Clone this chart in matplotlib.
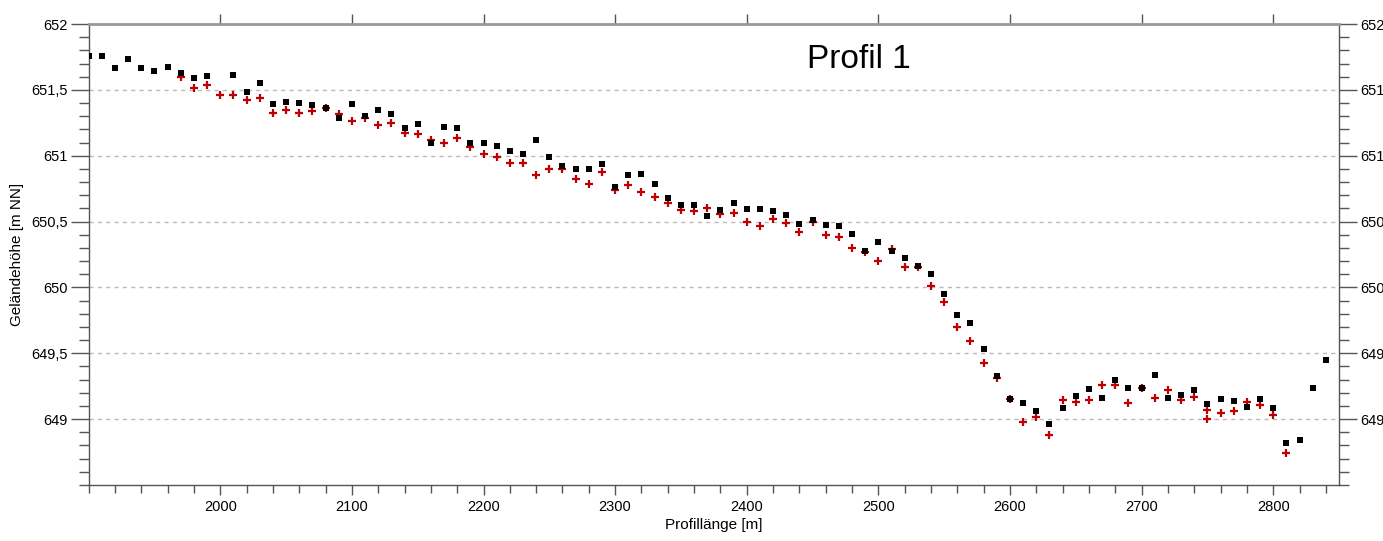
import matplotlib
matplotlib.use('Agg')
import matplotlib.pyplot as plt
from matplotlib.ticker import MultipleLocator, FixedLocator, FuncFormatter

plt.rcParams['font.family'] = ['Liberation Sans', 'DejaVu Sans']

# Messpunkte (schwarz, Quadrate)
x_black = [1900, 1910, 1920, 1930, 1940, 1950, 1960, 1970, 1980, 1990,
           2010, 2020, 2030, 2040, 2050, 2060, 2070, 2080, 2090, 2100,
           2110, 2120, 2130, 2140, 2150, 2160, 2170, 2180, 2190, 2200,
           2210, 2220, 2230, 2240, 2250, 2260, 2270, 2280, 2290, 2300,
           2310, 2320, 2330, 2340, 2350, 2360, 2370, 2380, 2390, 2400,
           2410, 2420, 2430, 2440, 2450, 2460, 2470, 2480, 2490, 2500,
           2510, 2520, 2530, 2540, 2550, 2560, 2570, 2580, 2590, 2600,
           2610, 2620, 2630, 2640, 2650, 2660, 2670, 2680, 2690, 2700,
           2710, 2720, 2730, 2740, 2750, 2760, 2770, 2780, 2790, 2800,
           2810, 2820, 2830, 2840]
h_black = [651.756, 651.756, 651.664, 651.733, 651.664, 651.646, 651.672, 651.628, 651.588, 651.606,
           651.613, 651.486, 651.550, 651.389, 651.405, 651.400, 651.382, 651.359, 651.288, 651.389,
           651.298, 651.344, 651.316, 651.214, 651.244, 651.100, 651.216, 651.209, 651.100, 651.097,
           651.071, 651.036, 651.015, 651.122, 650.992, 650.924, 650.903, 650.903, 650.934, 650.761,
           650.852, 650.865, 650.789, 650.679, 650.628, 650.628, 650.542, 650.590, 650.639, 650.593,
           650.597, 650.582, 650.553, 650.480, 650.510, 650.472, 650.464, 650.404, 650.277, 650.343,
           650.274, 650.221, 650.160, 650.099, 649.947, 649.789, 649.728, 649.530, 649.327, 649.150,
           649.122, 649.060, 648.960, 649.082, 649.175, 649.227, 649.157, 649.296, 649.240, 649.240,
           649.337, 649.160, 649.187, 649.225, 649.114, 649.150, 649.137, 649.091, 649.152, 649.086,
           648.820, 648.843, 649.233, 649.446]

# Messpunkte (rot, Kreuze)
x_red = [1970, 1980, 1990, 2000, 2010, 2020, 2030, 2040, 2050, 2060,
         2070, 2080, 2090, 2100, 2110, 2120, 2130, 2140, 2150, 2160,
         2170, 2180, 2190, 2200, 2210, 2220, 2230, 2240, 2250, 2260,
         2270, 2280, 2290, 2300, 2310, 2320, 2330, 2340, 2350, 2360,
         2370, 2380, 2390, 2400, 2410, 2420, 2430, 2440, 2450, 2460,
         2470, 2480, 2490, 2500, 2510, 2520, 2530, 2540, 2550, 2560,
         2570, 2580, 2590, 2600, 2610, 2620, 2630, 2640, 2650, 2660,
         2670, 2680, 2690, 2700, 2710, 2720, 2730, 2740, 2750, 2750,
         2760, 2770, 2780, 2790, 2800, 2810]
h_red = [651.600, 651.517, 651.540, 651.460, 651.460, 651.425, 651.440, 651.328, 651.344, 651.328,
         651.336, 651.359, 651.316, 651.267, 651.290, 651.234, 651.247, 651.176, 651.168, 651.120,
         651.094, 651.135, 651.069, 651.010, 650.992, 650.944, 650.944, 650.850, 650.896, 650.898,
         650.824, 650.789, 650.873, 650.743, 650.776, 650.723, 650.687, 650.644, 650.585, 650.580,
         650.600, 650.560, 650.567, 650.500, 650.470, 650.520, 650.490, 650.419, 650.497, 650.400,
         650.386, 650.300, 650.267, 650.203, 650.289, 650.155, 650.155, 650.008, 649.890, 649.698,
         649.594, 649.424, 649.312, 649.150, 648.977, 649.018, 648.877, 649.148, 649.133, 649.143,
         649.263, 649.256, 649.122, 649.233, 649.157, 649.223, 649.142, 649.170, 649.066, 649.003,
         649.050, 649.063, 649.132, 649.106, 649.030, 648.742]

x_major = [2000, 2100, 2200, 2300, 2400, 2500, 2600, 2700, 2800]
y_major = [649, 649.5, 650, 650.5, 651, 651.5, 652]

fig = plt.figure(figsize=(13.83, 5.41), dpi=100)
ax = fig.add_axes([0.0641, 0.1035, 0.9041, 0.8521])

ax.scatter(x_red, h_red, marker='+', s=40, linewidths=1.6, color='#c00000', zorder=3)
ax.scatter(x_black, h_black, marker='s', s=13, color='black', linewidths=0, zorder=4)

ax.set_xlim(1900, 2850)
ax.set_ylim(648.5, 652)

ax.xaxis.set_major_locator(FixedLocator(x_major))
ax.xaxis.set_minor_locator(MultipleLocator(20))
ax.yaxis.set_major_locator(FixedLocator(y_major))
ax.yaxis.set_minor_locator(MultipleLocator(0.1))
ax.yaxis.set_major_formatter(FuncFormatter(lambda v, p: ('%g' % v).replace('.', ',')))

ax.yaxis.set_ticks_position('both')
ax.xaxis.set_ticks_position('both')
ax.tick_params(axis='y', which='major', direction='out', length=13, width=1, color='#555555',
               labelsize=10.5, pad=2, labelleft=True, labelright=True)
ax.tick_params(axis='y', which='minor', direction='out', length=7, width=1, color='#555555')
ax.tick_params(axis='x', which='major', direction='out', length=12, width=1, color='#555555',
               labelsize=10.5, pad=4, labeltop=False)
ax.tick_params(axis='x', which='minor', direction='out', length=6, width=1, color='#555555')
ax.tick_params(axis='x', which='minor', top=False)
ax.tick_params(axis='x', which='major', top=True, length=7)

for side in ['left', 'bottom', 'right']:
    ax.spines[side].set_color('#555555')
    ax.spines[side].set_linewidth(1)
ax.spines['top'].set_color('#999999')
ax.spines['top'].set_linewidth(2)

ax.yaxis.grid(True, which='major', linestyle=(0, (3, 3)), color='#bbbbbb', linewidth=1)
ax.set_axisbelow(True)

ax.set_xlabel('Profillänge [m]', fontsize=11, labelpad=3)
ax.set_ylabel('Geländehöhe [m NN]', fontsize=11)
ax.yaxis.set_label_coords(-0.0515, 0.5)
ax.text(2446, 651.73, 'Profil 1', fontsize=24, va='center', ha='left')

plt.savefig('out.png', dpi=100)
